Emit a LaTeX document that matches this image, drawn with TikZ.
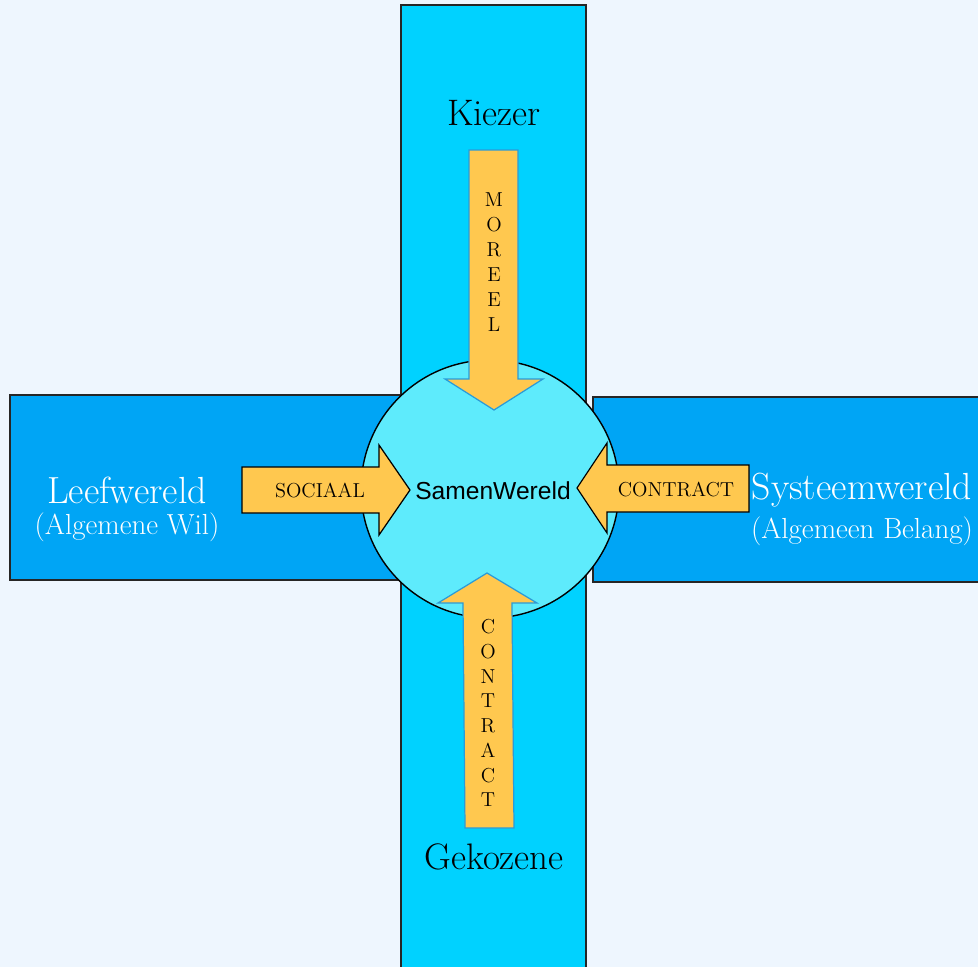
\documentclass[tikz,border=0pt]{standalone}
\usepackage{fontspec}
\newfontfamily\samenfont{Liberation Sans}
\usetikzlibrary{positioning}

\definecolor{achtergrond}{HTML}{EEF6FE}
\definecolor{kolom}{HTML}{00D2FF}
\definecolor{vleugel}{HTML}{00A5F5}
\definecolor{kern}{HTML}{5EEBFC}
\definecolor{pijl}{HTML}{FFC84F}
\definecolor{pijlrand}{HTML}{2A9BD8}

\begin{document}
\begin{tikzpicture}[x=0.02cm, y=-0.02cm,
  balk/.style={draw=black!85, line width=0.8pt},
  pijlv/.style={fill=pijl, draw=pijlrand, line width=0.7pt, line join=miter},
  pijlh/.style={fill=pijl, draw=black, line width=0.7pt, line join=miter},
  titel/.style={font=\fontsize{21}{24}\selectfont, inner sep=0pt},
  wereld/.style={font=\fontsize{21.5}{24}\selectfont, text=white, inner sep=0pt},
  sub/.style={font=\fontsize{16.5}{19}\selectfont, text=white, inner sep=0pt},
  letter/.style={font=\fontsize{11.5}{13}\selectfont, inner sep=0pt}
]

% background and bounding box
\fill[achtergrond] (0,0) rectangle (978,967);
\useasboundingbox (0,0) rectangle (978,967);

% ---- bars ----
\draw[balk, fill=vleugel] (10,395) rectangle (401,580);
\draw[balk, fill=vleugel] (593,397) rectangle (990,582);
\draw[balk, fill=kolom] (401,5) rectangle (586,980);

% ---- circle ----
\draw[black, line width=0.8pt, fill=kern] (490,489) circle[radius=2.58cm];

% ---- arrows ----
% top
\draw[pijlv] (469,150) -- (518,150) -- (518,379) -- (543,379) -- (494,410)
  -- (445,379) -- (469,379) -- cycle;
% bottom
\draw[pijlv] (465,828) -- (514,828) -- (512,603) -- (537,603) -- (487,573)
  -- (438,603) -- (463,603) -- cycle;
% left
\draw[pijlh] (242,467) -- (379,467) -- (379,445) -- (410,490) -- (379,535)
  -- (379,513) -- (242,513) -- cycle;
% right
\draw[pijlh] (749,465) -- (607,465) -- (607,443) -- (577,488) -- (607,533)
  -- (607,512) -- (749,512) -- cycle;

% ---- labels ----
\node[titel] (kiezer) at (494,113) {Kiezer};
\node[titel] (gekozene) at (494,857) {Gekozene};
\node[wereld] (leef) at (127,490) {Leefwereld};
\node[sub, below=5pt of leef] (wil) {(Algemene Wil)};
\node[wereld] (systeem) at (862,490) {Systeemwereld};
\node[sub, below=5pt of systeem] (belang) {(Algemeen Belang)};
\node[font=\samenfont\fontsize{14}{16}\selectfont] (samen) at (493,491) {SamenWereld};
\node[letter] (sociaal) at (320,490) {SOCIAAL};
\node[letter] (contractr) at (676,489) {CONTRACT};

% vertical letters
\foreach \l [count=\i] in {M,O,R,E,E,L}
  \node[letter] (moreel\i) at (494,{175+25*\i}) {\l};
\foreach \l [count=\i] in {C,O,N,T,R,A,C,T}
  \node[letter] (contract\i) at (488,{602.3+24.7*\i}) {\l};

\end{tikzpicture}
\end{document}
